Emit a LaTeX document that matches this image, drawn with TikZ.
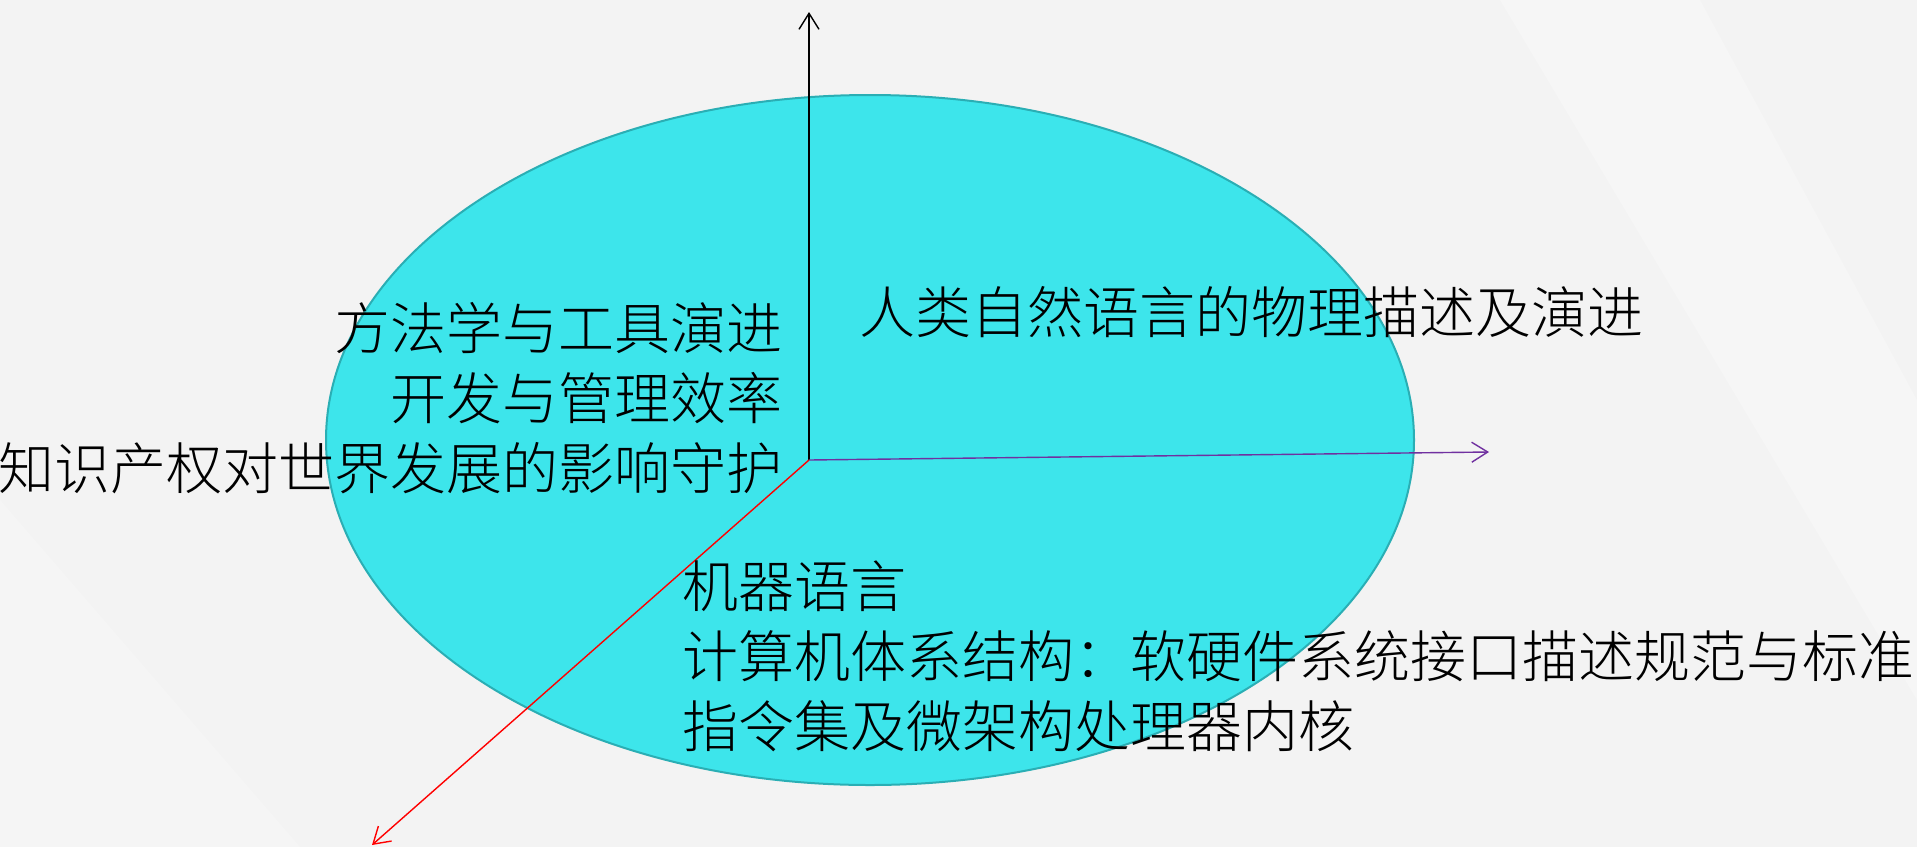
\documentclass[tikz,border=0pt]{standalone}
\usepackage{fontspec}
\usetikzlibrary{arrows.meta,shapes.geometric}
\newfontfamily\cjk{Noto Sans CJK SC}[UprightFont=* Light]
\definecolor{bgc}{HTML}{F3F3F3}
\definecolor{ellfill}{HTML}{3DE5EB}
\definecolor{elldraw}{HTML}{2AAEB4}
\definecolor{axpurple}{HTML}{7030A0}
\begin{document}
\begin{tikzpicture}[x=1pt,y=-1pt,
  axis/.style={line width=1.4pt,-{Straight Barb[length=16pt,width=20pt,line width=1.4pt]}},
  lbl/.style={inner sep=0pt,font=\cjk\fontsize{56}{70}\selectfont,text=black}]
\fill[bgc] (0,0) rectangle (1917,847);
\useasboundingbox (0,0) rectangle (1917,847);
\fill[white,opacity=0.25] (1500,0) -- (1700,0) -- (1917,400) -- (1917,700) -- cycle;
\fill[white,opacity=0.2] (0,500) -- (300,847) -- (0,847) -- cycle;
\node[ellipse,draw=elldraw,line width=2pt,fill=ellfill,minimum width=1088pt,minimum height=690pt,inner sep=0pt] (ell) at (870,440) {};
\coordinate (o) at (809,460);
\coordinate (up) at (809,12);
\coordinate (rt) at (1489,452);
\coordinate (dl) at (372,845);
\draw[axis,black] (o) -- (up);
\draw[axis,axpurple] (o) -- (rt);
\draw[axis,red] (o) -- (dl);
\node[lbl,anchor=west] (t1) at (859,312) {人类自然语言的物理描述及演进};
\node[lbl,anchor=east,align=right] (t2) at (783,398) {方法学与工具演进\\开发与管理效率\\知识产权对世界发展的影响守护};
\node[lbl,anchor=west,align=left] (t3) at (682,656) {机器语言\\计算机体系结构：软硬件系统接口描述规范与标准\\指令集及微架构处理器内核};
\end{tikzpicture}
\end{document}
